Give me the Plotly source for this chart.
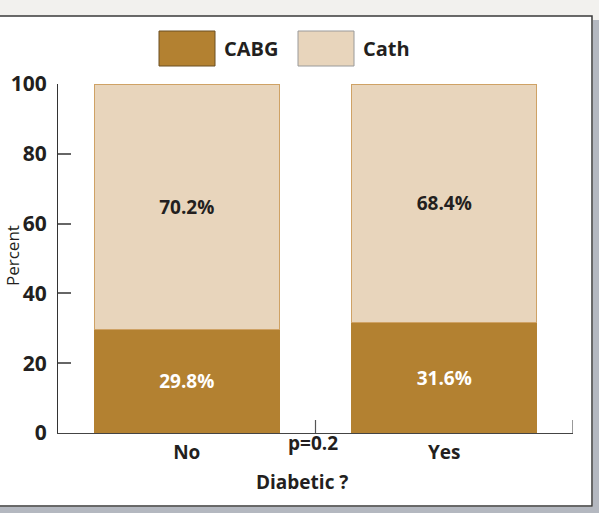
import plotly.graph_objects as go

# Treatment share by diabetic status
categories = ["No", "Yes"]
cabg_pct = [29.8, 31.6]
cath_pct = [70.2, 68.4]
series_names = ["CABG", "Cath"]
y_ticks = [0, 20, 40, 60, 80, 100]
p_value_label = "p=0.2"

CABG_COLOR = "#B38131"
CATH_COLOR = "#E8D5BC"
EDGE_COLOR = "#CFA265"
TEXT_COLOR = "#231F20"
FONT = "Open Sans, Liberation Sans, Arial, sans-serif"

fig = go.Figure()
fig.add_trace(go.Bar(
    x=categories, y=cabg_pct, name=series_names[0],
    marker=dict(color=CABG_COLOR, line=dict(color=CABG_COLOR, width=1)),
    text=[f"{v:.1f}%" for v in cabg_pct], textposition="inside",
    insidetextanchor="middle", textangle=0,
    textfont=dict(family=FONT, size=19, color="white", weight="bold"),
    width=0.72, showlegend=False, hoverinfo="skip",
))
fig.add_trace(go.Bar(
    x=categories, y=cath_pct, name=series_names[1],
    marker=dict(color=CATH_COLOR, line=dict(color=EDGE_COLOR, width=1)),
    text=[f"{v:.1f}%" for v in cath_pct], textposition="inside",
    insidetextanchor="middle", textangle=0,
    textfont=dict(family=FONT, size=19, color=TEXT_COLOR, weight="bold"),
    width=0.72, showlegend=False, hoverinfo="skip",
))

L, R, T, B = 58, 26, 84, 80
W, H = 599, 513
pw, ph = W - L - R, H - T - B


def px_x(px):
    return (px - L) / pw


def px_y(py):
    return (H - B - py) / ph


shapes = [
    # white panel with dark frame
    dict(type="rect", xref="paper", yref="paper",
         x0=px_x(-5), x1=px_x(592), y0=px_y(506), y1=px_y(16),
         fillcolor="white", line=dict(color="#3A3A3A", width=1.5), layer="below"),
    # shadow strip on the right and bottom
    dict(type="rect", xref="paper", yref="paper",
         x0=px_x(593), x1=px_x(600), y0=px_y(514), y1=px_y(20),
         fillcolor="#B4B8C0", line=dict(width=0), layer="below"),
    dict(type="rect", xref="paper", yref="paper",
         x0=px_x(-5), x1=px_x(600), y0=px_y(514), y1=px_y(507),
         fillcolor="#B4B8C0", line=dict(width=0), layer="below"),
    # x-axis boundary ticks
    dict(type="line", xref="x", yref="paper", x0=0.5, x1=0.5,
         y0=0, y1=px_y(H - B - 13), line=dict(color="#555555", width=1.2)),
    dict(type="line", xref="x", yref="paper", x0=1.5, x1=1.5,
         y0=0, y1=px_y(H - B - 13), line=dict(color="#555555", width=1.2)),
]

# legend swatches
legend_items = [(series_names[0], CABG_COLOR, "#6B4F22", 159),
                (series_names[1], CATH_COLOR, "#9A9A9A", 298)]
annotations = []
for name, fill, edge, x0 in legend_items:
    shapes.append(dict(type="rect", xref="paper", yref="paper",
                       x0=px_x(x0), x1=px_x(x0 + 56), y0=px_y(66), y1=px_y(31),
                       fillcolor=fill, line=dict(color=edge, width=1)))
    annotations.append(dict(xref="paper", yref="paper", x=px_x(x0 + 63), y=px_y(48.5),
                            text=name, showarrow=False, xanchor="left", yanchor="middle",
                            font=dict(family=FONT, size=20, color=TEXT_COLOR, weight="bold")))

annotations += [
    dict(xref="paper", yref="paper", x=px_x(313), y=px_y(443), text=p_value_label,
         showarrow=False, xanchor="center", yanchor="middle",
         font=dict(family=FONT, size=19, color=TEXT_COLOR, weight="bold")),
    dict(xref="paper", yref="paper", x=px_x(302), y=px_y(482), text="Diabetic ?",
         showarrow=False, xanchor="center", yanchor="middle",
         font=dict(family=FONT, size=19, color=TEXT_COLOR, weight="bold")),
    dict(xref="paper", yref="paper", x=px_x(12), y=px_y(256), text="Percent",
         showarrow=False, textangle=-90, xanchor="center", yanchor="middle",
         font=dict(family=FONT, size=17, color=TEXT_COLOR)),
]

fig.update_layout(
    barmode="stack",
    width=W, height=H,
    margin=dict(l=L, r=R, t=T, b=B, pad=0),
    paper_bgcolor="#F2F1EE",
    plot_bgcolor="rgba(0,0,0,0)",
    shapes=shapes,
    annotations=annotations,
    xaxis=dict(
        range=[-0.5, 1.5], showgrid=False, zeroline=False,
        showline=True, linecolor="#444444", linewidth=1.2,
        ticks="", tickfont=dict(family=FONT, size=19, color=TEXT_COLOR, weight="bold"),
        ticklabelstandoff=2,
    ),
    yaxis=dict(
        range=[0, 100], tickvals=y_ticks, showgrid=False, zeroline=False,
        showline=True, linecolor="#333333", linewidth=1.2,
        ticks="inside", ticklen=13, tickcolor="#666666", tickwidth=1.5,
        tickfont=dict(family=FONT, size=21, color=TEXT_COLOR, weight="bold"),
        ticklabelstandoff=6,
    ),
)

fig.write_html("out.html")
